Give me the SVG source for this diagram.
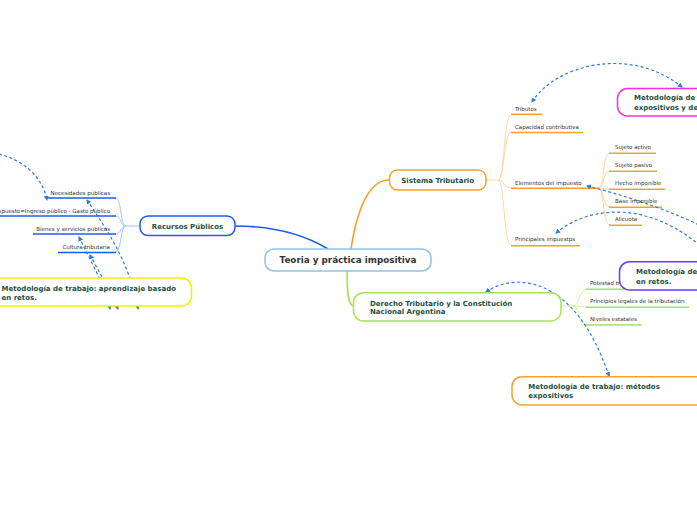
<svg xmlns="http://www.w3.org/2000/svg" width="697" height="520" viewBox="0 0 697 520">
<style>
.node{fill:#fff;stroke-width:1.5}
.nt{font-family:"DejaVu Sans",Verdana,sans-serif;font-weight:bold;font-size:7px;fill:#234f3f}
.ct{font-family:"DejaVu Sans",Verdana,sans-serif;font-weight:bold;font-size:8.8px;fill:#333}
.st{font-family:"DejaVu Sans",Verdana,sans-serif;font-size:5.5px;fill:#333}
.rel{fill:none;stroke:#2c7be5;stroke-width:1.2;stroke-dasharray:3 2.5;marker-start:url(#ah);marker-end:url(#ah)}
.bl{fill:none;stroke:#1d5bf0;stroke-width:1.6}
.blc{fill:none;stroke:#9bbcf5;stroke-width:0.9}
.or{fill:none;stroke:#f8a12a;stroke-width:1.6}
.orc{fill:none;stroke:#fdd39a;stroke-width:0.9}
.gr{fill:none;stroke:#a5e35a;stroke-width:1.6}
.grc{fill:none;stroke:#cdeea8;stroke-width:0.9}
</style>
<defs>
<marker id="ah" viewBox="0 0 10 10" refX="8" refY="5" markerWidth="5" markerHeight="5" orient="auto-start-reverse" markerUnits="userSpaceOnUse">
<path d="M0 0 L10 5 L0 10 Z" fill="#2c7be5"/>
</marker>
</defs>
<g id="connectors">
<path class="bl" d="M235 226 C275 226 305 235 328 249"/>
<path class="or" d="M351 249 C355 222 365 180 389 180"/>
<path class="gr" d="M347 271 C347 292 348 306 354 306"/>
<path class="blc" d="M140 226 H126 C120 226 122 198 115 198"/>
<path class="blc" d="M126 226 C120 226 122 216 115 216"/>
<path class="blc" d="M126 226 C120 226 122 234 115 234"/>
<path class="blc" d="M126 226 C120 226 122 252 115 252"/>
<path class="bl" d="M47 198 H116"/>
<path class="bl" d="M-5 216 H116"/>
<path class="bl" d="M33 234 H116"/>
<path class="bl" d="M58 252.5 H116"/>
<path class="orc" d="M486 180 H498 C505 180 503 114 512 114"/>
<path class="orc" d="M498 180 C505 180 503 132 512 132"/>
<path class="orc" d="M498 180 C505 180 503 188 512 188"/>
<path class="orc" d="M498 180 C505 180 503 246 512 246"/>
<path class="or" d="M511 114.3 H542"/>
<path class="or" d="M511 132.5 H583"/>
<path class="or" d="M511 188.3 H598"/>
<path class="or" d="M511 245.7 H580"/>
<path class="orc" d="M598 188 C605 188 602 153 610 153"/>
<path class="orc" d="M598 188 C605 188 602 171 610 171"/>
<path class="orc" d="M598 188 C605 188 602 189 610 189"/>
<path class="orc" d="M598 188 C605 188 602 207 610 207"/>
<path class="orc" d="M598 188 C605 188 602 225 610 225"/>
<path class="or" d="M609 153.3 H656"/>
<path class="or" d="M609 171.3 H657"/>
<path class="or" d="M609 189.3 H665"/>
<path class="or" d="M609 207.3 H662"/>
<path class="or" d="M609 225.3 H642"/>
<path class="grc" d="M561 306 H573 C580 306 579 289 587 289"/>
<path class="grc" d="M573 306 C580 306 579 307 587 307"/>
<path class="grc" d="M573 306 C580 306 579 325 587 325"/>
<path class="gr" d="M586 289.3 H645"/>
<path class="gr" d="M586 307.3 H689"/>
<path class="gr" d="M586 325 H642"/>
<path class="rel" d="M-12 152 C20 156 42 175 47 200"/>
<path class="rel" d="M87 200 C100 220 130 260 138 309"/>
<path class="rel" d="M79 237 C90 260 105 285 110 309"/>
<path class="rel" d="M90 255 C98 270 110 290 118 309"/>
<path class="rel" d="M532 102 C555 65 630 45 682 87"/>
<path class="rel" d="M587 186 C620 194 670 210 705 228"/>
<path class="rel" d="M556 233 C590 205 650 200 705 250"/>
<path class="rel" d="M486 292 C515 272 575 275 609 376"/>
</g>
<g id="center">
<rect class="node" x="265" y="249" width="166" height="22" rx="9" stroke="#8ec3ea" stroke-width="2"/>
<text class="ct" x="348" y="263.2" text-anchor="middle">Teoria y práctica impositiva</text>
</g>
<g id="recursos">
<rect class="node" x="140" y="216" width="95" height="19.5" rx="8" stroke="#1d5bf0"/>
<text class="nt" x="187.5" y="228.7" text-anchor="middle">Recursos Públicos</text>
</g>
<g id="necesidades"><text class="st" x="110" y="194.7" text-anchor="end">Necesidades públicas</text></g>
<g id="impuesto"><text class="st" x="110" y="213" text-anchor="end">Impuesto=Ingreso público - Gasto público</text></g>
<g id="bienes"><text class="st" x="110" y="231" text-anchor="end">Bienes y servicios públicos</text></g>
<g id="cultura"><text class="st" x="110" y="249" text-anchor="end">Cultura tributaria</text></g>
<g id="aprendizaje-izq">
<rect class="node" x="-12" y="278" width="203.5" height="28" rx="10" stroke="#f6f000"/>
<text class="nt" x="1.5" y="290.8">Metodología de trabajo: aprendizaje basado</text>
<text class="nt" x="1.5" y="299.8">en retos.</text>
</g>
<g id="sistema">
<rect class="node" x="389.5" y="170" width="96.5" height="20" rx="8" stroke="#f8a12a"/>
<text class="nt" x="437.7" y="183.2" text-anchor="middle">Sistema Tributario</text>
</g>
<g id="tributos"><text class="st" x="515" y="111">Tributos</text></g>
<g id="capacidad"><text class="st" x="515" y="128.8">Capacidad contributiva</text></g>
<g id="elementos"><text class="st" x="515" y="184.8">Elementos del impuesto</text></g>
<g id="principales"><text class="st" x="515" y="241.4">Principales impuestps</text></g>
<g id="sujeto-activo"><text class="st" x="615" y="149.3">Sujeto activo</text></g>
<g id="sujeto-pasivo"><text class="st" x="615" y="167">Sujeto pasivo</text></g>
<g id="hecho"><text class="st" x="615" y="184.8">Hecho imponible</text></g>
<g id="base"><text class="st" x="615" y="203">Base imponible</text></g>
<g id="alicuota"><text class="st" x="615" y="221">Alicuota</text></g>
<g id="expositivos-debate">
<rect class="node" x="617.5" y="88.5" width="110" height="27.5" rx="10" stroke="#ff2bd8"/>
<text class="nt" x="634" y="100.2">Metodología de trabajo: métodos</text>
<text class="nt" x="634" y="109.8">expositivos y de</text>
</g>
<g id="derecho">
<rect class="node" x="353.5" y="292.7" width="207.5" height="28.3" rx="10" stroke="#a5e35a"/>
<text class="nt" x="370" y="305.8">Derecho Tributario y la Constitución</text>
<text class="nt" x="370" y="314.2">Nacional Argentina</text>
</g>
<g id="potestad"><text class="st" x="590" y="285.3">Potestad tributaria</text></g>
<g id="principios"><text class="st" x="590" y="303">Principios legales de la tributación</text></g>
<g id="niveles"><text class="st" x="590" y="321.3">Niveles estatales</text></g>
<g id="aprendizaje-der">
<rect class="node" x="619.5" y="261.7" width="110" height="28.3" rx="10" stroke="#6a3cf5"/>
<text class="nt" x="636" y="274.2">Metodología de trabajo: aprendizaje basado</text>
<text class="nt" x="636" y="283.5">en retos.</text>
</g>
<g id="expositivos">
<rect class="node" x="512" y="376.7" width="200" height="28.3" rx="10" stroke="#f8a12a"/>
<text class="nt" x="528.3" y="389.2">Metodología de trabajo: métodos</text>
<text class="nt" x="528.3" y="397.5">expositivos</text>
</g>
</svg>
